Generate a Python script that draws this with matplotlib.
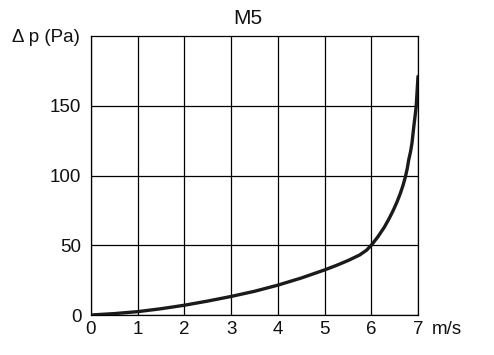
import matplotlib
matplotlib.use("Agg")
import matplotlib.pyplot as plt

plt.rcParams['font.family'] = ['Liberation Sans', 'DejaVu Sans']

velocity = [0, 0.5, 1, 1.5, 2, 2.5, 3, 3.5, 4, 4.5, 5, 5.25, 5.5, 5.75, 5.9, 6, 6.14, 6.28, 6.38, 6.47, 6.55,
            6.62, 6.68, 6.73, 6.77, 6.80, 6.84, 6.87, 6.91, 6.96, 7.0]
pressure = [0, 1, 2.4, 4.5, 7, 10, 13.3, 17, 21.4, 26.5, 32.3, 35.5, 39, 43, 46.5, 50, 56, 63, 69, 75, 81,
            87, 93, 99, 105, 111, 117, 123, 135, 149, 171]
x_ticks = [0, 1, 2, 3, 4, 5, 6, 7]
y_ticks = [0, 50, 100, 150]

fig = plt.figure(figsize=(4.94, 3.55), dpi=100)
ax = fig.add_axes([91/494, 1-315/355, (418-91)/494, (315-36)/355])

ax.plot(velocity, pressure, color='#1a1a1a', lw=2.4, solid_capstyle='round',
        solid_joinstyle='round', zorder=3)
ax.set_xlim(0, 7)
ax.set_ylim(0, 200)
ax.set_xticks(x_ticks)
ax.set_yticks(y_ticks)
ax.grid(True, color='black', lw=0.9)
for s in ax.spines.values():
    s.set_color('black')
    s.set_linewidth(0.9)
ax.tick_params(length=0, labelsize=13.5, colors='#111111')
ax.tick_params(axis='x', pad=4)
ax.tick_params(axis='y', pad=7)

fig.text(248/494, 1-19/355, 'M5', ha='center', va='center', fontsize=15, color='#111111')
fig.text(12/494, 1-38/355, 'Δ p (Pa)', ha='left', va='center', fontsize=13.5, color='#111111')
fig.text(432/494, 1-329/355, 'm/s', ha='left', va='center', fontsize=13.5, color='#111111')

fig.savefig('out.png', dpi=100)
